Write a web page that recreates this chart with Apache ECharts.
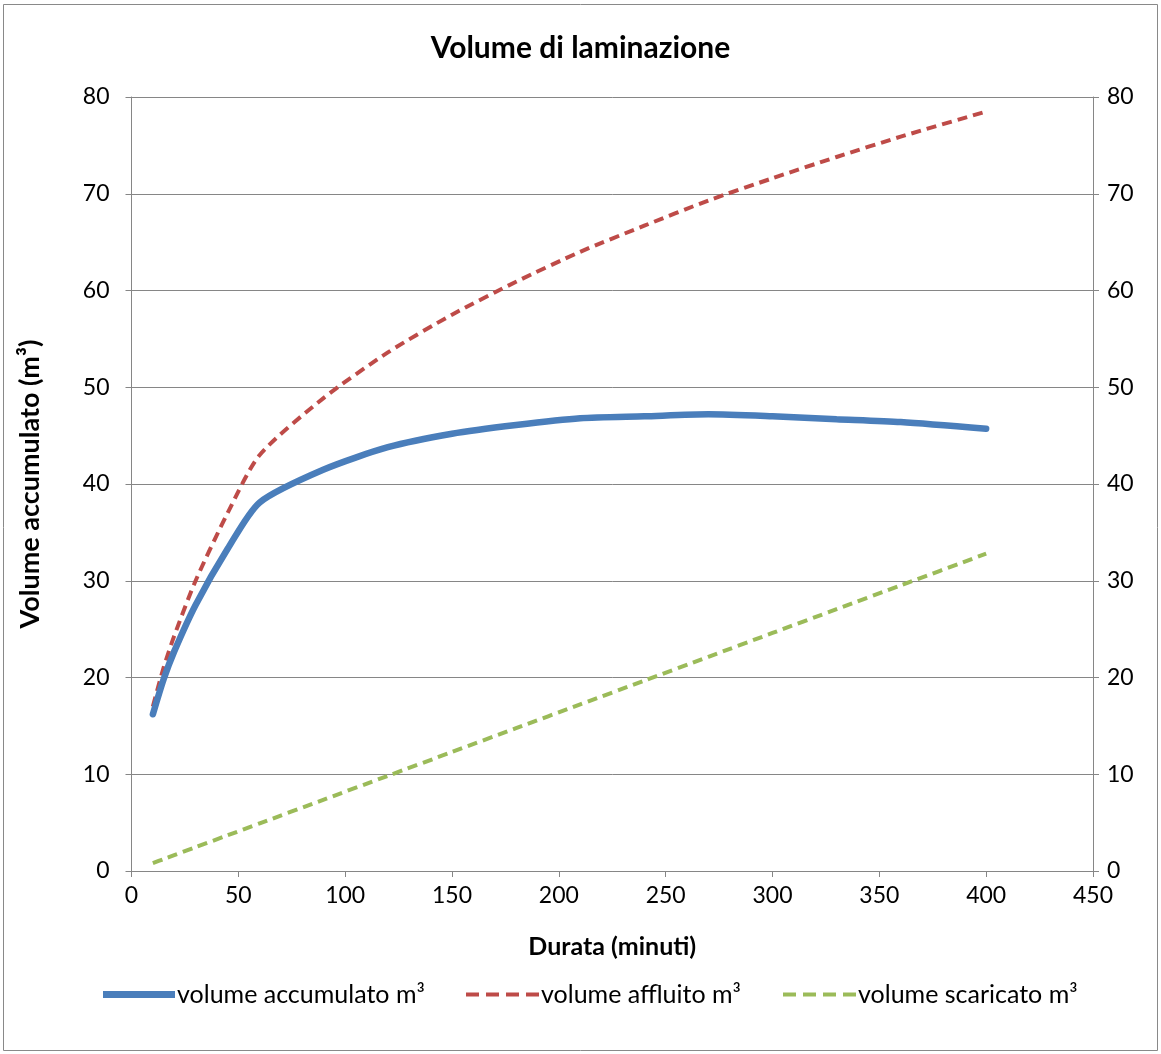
<!DOCTYPE html>
<html>
<head>
<meta charset="utf-8">
<script src="https://cdn.jsdelivr.net/npm/echarts@6/dist/echarts.min.js"></script>
<style>
html,body{margin:0;padding:0;background:#fff;}
#chart{width:1161px;height:1054px;}
</style>
</head>
<body>
<div id="chart"></div>
<script>
const durata = [10, 15, 20, 30, 45, 60, 90, 120, 150, 180, 210, 240, 270, 300, 330, 360, 400];
const volumeAccumulato = [16.2, 19.8, 22.7, 27.5, 33.3, 38.1, 41.5, 43.8, 45.2, 46.1, 46.8, 47.0, 47.2, 47.0, 46.7, 46.4, 45.7];
const volumeAffluito = [17.0, 21.0, 24.3, 30.0, 37.0, 43.0, 48.9, 53.6, 57.5, 60.9, 64.0, 66.7, 69.3, 71.6, 73.8, 75.9, 78.5];
const volumeScaricato = [0.82, 1.23, 1.64, 2.46, 3.69, 4.92, 7.38, 9.84, 12.3, 14.76, 17.22, 19.68, 22.14, 24.6, 27.06, 29.52, 32.8];
const seriesNames = ['volume accumulato m³', 'volume affluito m³', 'volume scaricato m³'];
const titleText = 'Volume di laminazione';
const xAxisName = 'Durata (minuti)';
const yAxisName = 'Volume accumulato (m³)';

const pair = (ys) => durata.map((t, i) => [t, ys[i]]);
const FONT = 'Lato';
const axisGray = '#868686';
const BLUE = '#4A7EBB', RED = '#BE4B48', GREEN = '#9BBB59';

const solidIcon = 'path://M0,0 H72 V7 H0 Z';
const dashIcon = 'path://M0,0 H13 V4 H0 Z M20,0 H33 V4 H20 Z M40,0 H53 V4 H40 Z M60,0 H73 V4 H60 Z';

function legendAt(name, left, icon, w, h) {
  return {
    left: left, top: 982, padding: 0, itemWidth: w, itemHeight: h, icon: icon,
    textStyle: {fontFamily: FONT, fontSize: 25, color: '#000', padding: [0, 0, 0, -3]},
    data: [{name: name, icon: icon}]
  };
}

const chart = echarts.init(document.getElementById('chart'), null, {renderer: 'canvas'});
chart.setOption({
  backgroundColor: '#fff',
  animation: false,
  textStyle: {fontFamily: FONT},
  title: {
    text: titleText, left: 'center', top: 28,
    textStyle: {fontFamily: FONT, fontSize: 30, fontWeight: 'bold', color: '#000'}
  },
  graphic: [{
    type: 'rect', shape: {x: 3.5, y: 4.5, width: 1154, height: 1046},
    style: {fill: 'none', stroke: '#898989', lineWidth: 1}, silent: true, z: -1
  }],
  grid: {left: 131.5, right: 68, top: 97, bottom: 183, containLabel: false},
  legend: [
    legendAt(seriesNames[0], 103, solidIcon, 72, 7),
    legendAt(seriesNames[1], 466, dashIcon, 73, 4),
    legendAt(seriesNames[2], 783, dashIcon, 73, 4)
  ],
  xAxis: {
    type: 'value', min: 0, max: 450, interval: 50,
    name: xAxisName, nameLocation: 'middle', nameGap: 63,
    nameTextStyle: {fontFamily: FONT, fontSize: 25, fontWeight: 'bold', color: '#000'},
    axisLine: {show: true, lineStyle: {color: axisGray, width: 1}},
    axisTick: {show: true, inside: false, length: 6, lineStyle: {color: axisGray}},
    axisLabel: {fontFamily: FONT, fontSize: 23, color: '#000', margin: 13},
    splitLine: {show: false}
  },
  yAxis: [{
    type: 'value', min: 0, max: 80, interval: 10, position: 'left',
    name: yAxisName, nameLocation: 'middle', nameGap: 88, nameRotate: 90,
    nameTextStyle: {fontFamily: FONT, fontSize: 27, fontWeight: 'bold', color: '#000'},
    axisLine: {show: true, lineStyle: {color: axisGray, width: 1}},
    axisTick: {show: true, inside: false, length: 6, lineStyle: {color: axisGray}},
    axisLabel: {fontFamily: FONT, fontSize: 23, color: '#000', margin: 22},
    splitLine: {show: true, lineStyle: {color: axisGray, width: 1}}
  }, {
    type: 'value', min: 0, max: 80, interval: 10, position: 'right',
    axisLine: {show: true, lineStyle: {color: axisGray, width: 1}},
    axisTick: {show: true, inside: false, length: 6, lineStyle: {color: axisGray}},
    axisLabel: {fontFamily: FONT, fontSize: 23, color: '#000', margin: 14},
    splitLine: {show: false}
  }],
  series: [{
    name: seriesNames[0], type: 'line', data: pair(volumeAccumulato),
    smooth: 0.25, symbol: 'none', z: 3,
    lineStyle: {color: BLUE, width: 6.5, cap: 'round'}, itemStyle: {color: BLUE}
  }, {
    name: seriesNames[1], type: 'line', data: pair(volumeAffluito),
    smooth: 0.25, symbol: 'none', z: 2,
    lineStyle: {color: RED, width: 4, type: [10, 6]}, itemStyle: {color: RED}
  }, {
    name: seriesNames[2], type: 'line', data: pair(volumeScaricato),
    smooth: 0.25, symbol: 'none', z: 2,
    lineStyle: {color: GREEN, width: 4, type: [10, 6]}, itemStyle: {color: GREEN}
  }]
});
</script>
</body>
</html>
